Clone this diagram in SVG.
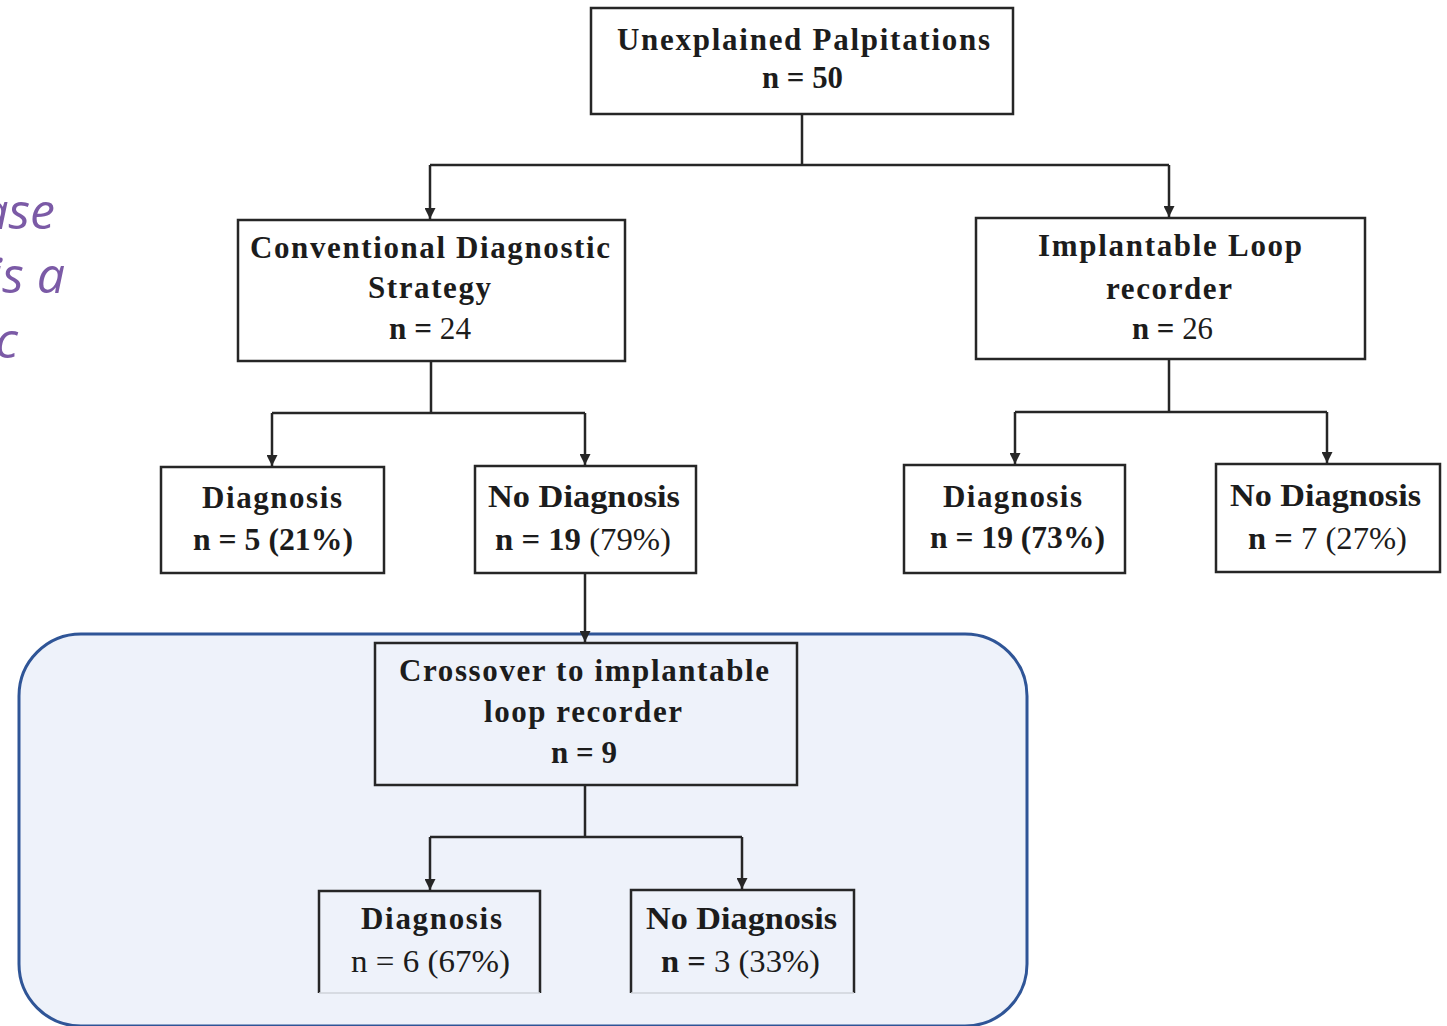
<svg xmlns="http://www.w3.org/2000/svg" width="1447" height="1026" viewBox="0 0 1447 1026">
<style>
.box{fill:#ffffff;stroke:#262626;stroke-width:2.5}
.obox{fill:none;stroke:#262626;stroke-width:2.5}
.t{font-family:"Liberation Serif","Times New Roman",serif;font-weight:bold;font-size:31px;fill:#1c1c1c}
.r{font-weight:normal}
.c{fill:none;stroke:#262626;stroke-width:2.5}
.side{font-family:"Open Sans","Noto Sans",sans-serif;font-style:italic;font-size:50px;fill:#7b5aa6}
</style>
<defs>
<marker id="ah" viewBox="0 0 10 10" refX="10" refY="5" markerWidth="5" markerHeight="4.4" orient="auto" markerUnits="strokeWidth">
<path d="M0,0 L10,5 L0,10 Z" fill="#262626"/>
</marker>
</defs>
<rect width="1447" height="1026" fill="#ffffff"/>
<g id="side-text">
<text class="side" x="55" y="229" text-anchor="end">ase</text>
<text class="side" x="65" y="293" text-anchor="end">is a</text>
<text class="side" x="18" y="358" text-anchor="end">c</text>
</g>
<g id="highlight">
<rect x="19" y="634" width="1008" height="392" rx="62" ry="62" fill="#eef2fa" stroke="#2f5597" stroke-width="3"/>
</g>
<g id="connectors">
<path class="c" d="M802,114 V165 M430,165 H1169"/>
<path class="c" d="M430,165 V219" marker-end="url(#ah)"/>
<path class="c" d="M1169,165 V217" marker-end="url(#ah)"/>
<path class="c" d="M431,361 V413 M272,413 H585"/>
<path class="c" d="M272,413 V466" marker-end="url(#ah)"/>
<path class="c" d="M585,413 V465" marker-end="url(#ah)"/>
<path class="c" d="M1169,359 V412 M1015,412 H1327"/>
<path class="c" d="M1015,412 V464" marker-end="url(#ah)"/>
<path class="c" d="M1327,412 V463" marker-end="url(#ah)"/>
<path class="c" d="M585,573 V642" marker-end="url(#ah)"/>
<path class="c" d="M585,785 V837 M430,837 H742"/>
<path class="c" d="M430,837 V890" marker-end="url(#ah)"/>
<path class="c" d="M742,837 V889" marker-end="url(#ah)"/>
</g>
<g id="n-root">
<rect class="box" x="591" y="8" width="422" height="106"/>
<text class="t" x="617" y="50" textLength="373" lengthAdjust="spacing">Unexplained Palpitations</text>
<text class="t" x="762" y="88" textLength="81" lengthAdjust="spacingAndGlyphs">n = 50</text>
</g>
<g id="n-conventional">
<rect class="box" x="238" y="220" width="387" height="141"/>
<text class="t" x="250" y="258" textLength="360" lengthAdjust="spacing">Conventional Diagnostic</text>
<text class="t" x="368" y="298" textLength="123" lengthAdjust="spacing">Strategy</text>
<text class="t" x="389" y="339" textLength="82" lengthAdjust="spacingAndGlyphs">n = <tspan class="r">24</tspan></text>
</g>
<g id="n-ilr">
<rect class="box" x="976" y="218" width="389" height="141"/>
<text class="t" x="1038" y="256" textLength="264" lengthAdjust="spacing">Implantable Loop</text>
<text class="t" x="1106" y="299" textLength="126" lengthAdjust="spacing">recorder</text>
<text class="t" x="1132" y="339" textLength="81" lengthAdjust="spacingAndGlyphs">n = <tspan class="r">26</tspan></text>
</g>
<g id="n-conv-diag">
<rect class="box" x="161" y="467" width="223" height="106"/>
<text class="t" x="202" y="508" textLength="140" lengthAdjust="spacing">Diagnosis</text>
<text class="t" x="193" y="550" textLength="160" lengthAdjust="spacingAndGlyphs">n = 5 (21%)</text>
</g>
<g id="n-conv-nodiag">
<rect class="box" x="475" y="466" width="221" height="107"/>
<text class="t" x="488" y="507" textLength="192" lengthAdjust="spacingAndGlyphs">No Diagnosis</text>
<text class="t" x="495" y="550" textLength="176" lengthAdjust="spacingAndGlyphs">n = 19 <tspan class="r">(79%)</tspan></text>
</g>
<g id="n-ilr-diag">
<rect class="box" x="904" y="465" width="221" height="108"/>
<text class="t" x="943" y="507" textLength="139" lengthAdjust="spacing">Diagnosis</text>
<text class="t" x="930" y="548" textLength="175" lengthAdjust="spacingAndGlyphs">n = 19 (73%)</text>
</g>
<g id="n-ilr-nodiag">
<rect class="box" x="1216" y="464" width="224" height="108"/>
<text class="t" x="1230" y="506" textLength="191" lengthAdjust="spacingAndGlyphs">No Diagnosis</text>
<text class="t" x="1248" y="549" textLength="159" lengthAdjust="spacingAndGlyphs">n = <tspan class="r">7 (27%)</tspan></text>
</g>
<g id="n-crossover">
<rect class="obox" x="375" y="643" width="422" height="142"/>
<text class="t" x="399" y="681" textLength="370" lengthAdjust="spacing">Crossover to implantable</text>
<text class="t" x="484" y="722" textLength="198" lengthAdjust="spacing">loop recorder</text>
<text class="t" x="551" y="763" textLength="66" lengthAdjust="spacingAndGlyphs">n = 9</text>
</g>
<g id="n-cross-diag">
<path class="obox" d="M319,993 V891 H540 V993"/>
<path d="M319,993 H540" stroke="#cfd3da" stroke-width="1.5" fill="none"/>
<text class="t" x="361" y="929" textLength="141" lengthAdjust="spacing">Diagnosis</text>
<text class="t r" x="351" y="972" textLength="159" lengthAdjust="spacingAndGlyphs">n = 6 (67%)</text>
</g>
<g id="n-cross-nodiag">
<path class="obox" d="M631,993 V890 H854 V993"/>
<path d="M631,993 H854" stroke="#cfd3da" stroke-width="1.5" fill="none"/>
<text class="t" x="646" y="929" textLength="191" lengthAdjust="spacingAndGlyphs">No Diagnosis</text>
<text class="t" x="661" y="972" textLength="159" lengthAdjust="spacingAndGlyphs">n = <tspan class="r">3 (33%)</tspan></text>
</g>
</svg>
